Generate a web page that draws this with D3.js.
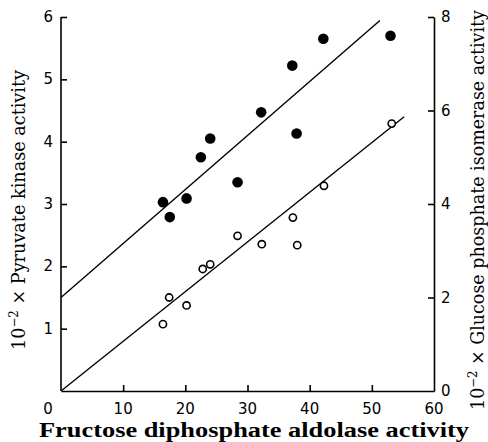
<!DOCTYPE html>
<html>
<head>
<meta charset="utf-8">
<script src="https://cdn.jsdelivr.net/npm/d3@7"></script>
<style>
  body { margin: 0; background: #fff; }
  svg { display: block; }
</style>
</head>
<body>
<div id="chart"></div>
<script>
// aldolase activity (x) for the filled points, pyruvate kinase (left axis)
const pkX = [16.4, 17.5, 20.2, 22.5, 24.0, 28.4, 32.2, 37.2, 37.9, 42.2, 53.0];
const pkY = [3.03, 2.79, 3.09, 3.75, 4.05, 3.35, 4.47, 5.22, 4.13, 5.65, 5.70];
// open points, glucose phosphate isomerase (right axis)
const gpiX = [16.4, 17.4, 20.2, 22.8, 24.0, 28.4, 32.3, 37.3, 38.0, 42.3, 53.2];
const gpiY = [1.43, 2.00, 1.83, 2.61, 2.71, 3.32, 3.14, 3.71, 3.12, 4.39, 5.72];
// fitted lines (x range, intercept, slope)
const pkLine = { x: [0, 51.3], a: 1.5, b: 0.0866 };
const gpiLine = { x: [0, 55.2], a: 0, b: 0.1063 };

const xTicks = [0, 10, 20, 30, 40, 50, 60];
const leftTicks = [1, 2, 3, 4, 5, 6];
const rightTicks = [0, 2, 4, 6, 8];

const W = 488, H = 442;
const svg = d3.select("#chart").append("svg").attr("width", W).attr("height", H);

const x = d3.scaleLinear().domain([0, 60]).range([61, 434]);
const yL = d3.scaleLinear().domain([0, 6]).range([391, 17]);
const yR = d3.scaleLinear().domain([0, 8]).range([391, 17]);

const tickFont = "'DejaVu Sans', sans-serif";
const titleFont = "'DejaVu Serif', serif";

// x axis (ticks point inward)
const gx = svg.append("g").attr("transform", "translate(0,391)")
  .call(d3.axisTop(x).tickValues(xTicks).tickSize(6).tickSizeOuter(0).tickFormat(""));
gx.selectAll(".tick").filter(d => d === 0 || d === 60).select("line").remove();
svg.selectAll(".xl").data(xTicks).enter().append("text")
  .attr("x", d => d === 0 ? 48 : x(d))
  .attr("y", 414)
  .attr("text-anchor", "middle")
  .attr("font-family", tickFont).attr("font-size", 15)
  .text(d => d);

// left axis
const gl = svg.append("g").attr("transform", "translate(61,0)")
  .call(d3.axisRight(yL).tickValues(leftTicks).tickSize(6).tickSizeOuter(0).tickFormat(""));
gl.select(".domain").attr("d", "M0," + yL(6) + "V" + yL(0));
svg.selectAll(".ll").data(leftTicks).enter().append("text")
  .attr("x", 53).attr("y", d => yL(d) + 5)
  .attr("text-anchor", "end")
  .attr("font-family", tickFont).attr("font-size", 15)
  .text(d => d);

// right axis
const gr = svg.append("g").attr("transform", "translate(434,0)")
  .call(d3.axisLeft(yR).tickValues(rightTicks).tickSize(6).tickSizeOuter(0).tickFormat(""));
gr.selectAll(".tick").filter(d => d === 0).select("line").remove();
svg.selectAll(".rl").data(rightTicks).enter().append("text")
  .attr("x", 441).attr("y", d => yR(d) + 5)
  .attr("text-anchor", "start")
  .attr("font-family", tickFont).attr("font-size", 15)
  .text(d => d);

svg.selectAll(".domain, .tick line").attr("stroke", "#000").attr("stroke-width", 1.6);

// fitted lines
const line = d3.line();
svg.append("path")
  .attr("d", line(pkLine.x.map(v => [x(v), yL(pkLine.a + pkLine.b * v)])))
  .attr("fill", "none").attr("stroke", "#000").attr("stroke-width", 1.4);
svg.append("path")
  .attr("d", line(gpiLine.x.map(v => [x(v), yR(gpiLine.a + gpiLine.b * v)])))
  .attr("fill", "none").attr("stroke", "#000").attr("stroke-width", 1.4);

// points
svg.selectAll(".pk").data(pkX).enter().append("circle")
  .attr("cx", d => x(d)).attr("cy", (d, i) => yL(pkY[i]))
  .attr("r", 5.3).attr("fill", "#000");
svg.selectAll(".gpi").data(gpiX).enter().append("circle")
  .attr("cx", d => x(d)).attr("cy", (d, i) => yR(gpiY[i]))
  .attr("r", 3.6).attr("fill", "#fff").attr("stroke", "#000").attr("stroke-width", 1.6);

// titles
svg.append("text")
  .attr("x", 254).attr("y", 437)
  .attr("text-anchor", "middle")
  .attr("font-family", "'Liberation Serif', serif").attr("font-size", 20).attr("font-weight", "bold")
  .attr("textLength", 430).attr("lengthAdjust", "spacingAndGlyphs")
  .text("Fructose diphosphate aldolase activity");

function yTitle(cx, cy, label, len) {
  const t = svg.append("text")
    .attr("transform", "translate(" + cx + "," + cy + ") rotate(-90)")
    .attr("text-anchor", "middle")
    .attr("font-family", titleFont).attr("font-size", 18)
    .attr("textLength", len).attr("lengthAdjust", "spacingAndGlyphs");
  t.append("tspan").text("10");
  t.append("tspan").attr("dy", -7).attr("font-size", 12).text("\u22122");
  t.append("tspan").attr("dy", 7).text("\u00a0\u00d7 " + label);
}
yTitle(25, 210, "Pyruvate kinase activity", 280);
yTitle(484, 210, "Glucose phosphate isomerase activity", 400);
</script>
</body>
</html>
